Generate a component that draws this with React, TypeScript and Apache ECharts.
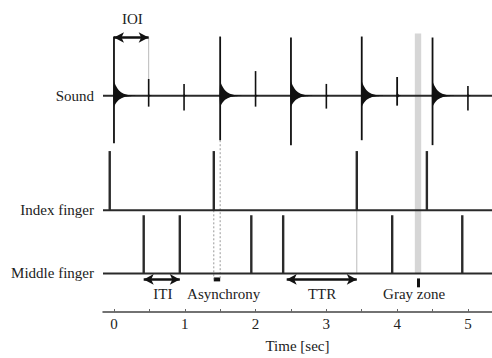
import React, { useEffect, useRef } from "react";
import * as echarts from "echarts";

// ---- data ----
const xTickLabels = [0, 1, 2, 3, 4, 5];
const xTickMarks = [0, 0.5, 1, 1.5, 2, 2.5, 3, 3.5, 4, 4.5, 5];
const rowLabels = ["Sound", "Index finger", "Middle finger"];
const rowBase = [219, 103, 39];

const soundTimes = [0, 0.49, 0.99, 1.5, 2.0, 2.5, 3.0, 3.5, 4.0, 4.5, 5.0];
const soundUp = [60, 17, 12, 60, 25, 59, 12, 60, 19, 59, 10];
const soundDown = [48, 11, 15, 45, 11, 50, 13, 45, 10, 50, 15];
const soundEnv = [15, 2, 2, 15, 2, 15, 2, 15, 5, 15, 2];

const indexTaps = [-0.06, 1.41, 3.43, 4.42];
const middleTaps = [0.42, 0.93, 1.94, 2.39, 3.93, 4.92];
const indexTapHeight = 60;
const middleTapHeight = 59;

const grayZone = [4.25, 4.34];
const grayZoneTop = 282;

const annotationLabels = ["IOI", "ITI", "Asynchrony", "TTR", "Gray zone"];
const annotationX = [0.26, 0.69, 1.55, 2.94, 4.24];
const annotationY = [297, 18, 18, 18, 18];

const ioiSpan = [0, 0.49];
const ioiLevel = 278;
const itiSpan = [0.42, 0.93];
const ttrSpan = [2.44, 3.43];
const asyncSpan = [1.41, 1.5];
const annotationLevel = 33;

const X_MIN = -0.155;
const X_MAX = 5.34;
const FONT = "Liberation Serif";

export default function App() {
  const ref = useRef<HTMLDivElement>(null);
  useEffect(() => {
    if (!ref.current) return;
    const chart = echarts.init(ref.current, null, { renderer: "svg" });
    const [SOUND_BASE, INDEX_BASE, MIDDLE_BASE] = rowBase;

    const soundData = soundTimes.map((t, i) => [t, soundUp[i], soundDown[i], soundEnv[i]]);
    const tapData = [
      ...indexTaps.map((t) => [t, INDEX_BASE, indexTapHeight]),
      ...middleTaps.map((t) => [t, MIDDLE_BASE, middleTapHeight]),
    ];
    const guideData = [
      [ioiSpan[1], SOUND_BASE, ioiLevel, 0],
      [asyncSpan[0], INDEX_BASE, annotationLevel, 1],
      [asyncSpan[1], SOUND_BASE - soundDown[3], annotationLevel, 1],
      [ttrSpan[1], INDEX_BASE, MIDDLE_BASE, 0],
    ];
    const textData = annotationLabels.map((l, i) => [annotationX[i], annotationY[i], i]);

    const arrowLine = (a: number, b: number, y: number) => [
      { coord: [a, y] },
      { coord: [b, y] },
    ];

    chart.setOption({
      animation: false,
      textStyle: { fontFamily: FONT },
      grid: { left: 103, right: 0, top: 0, bottom: 42 },
      xAxis: {
        type: "value",
        min: X_MIN,
        max: X_MAX,
        splitLine: { show: false },
        axisLine: { lineStyle: { color: "#444", width: 1.5 } },
        axisTick: {
          customValues: xTickMarks,
          inside: true,
          length: 3,
          lineStyle: { color: "#666", width: 1 },
        },
        axisLabel: {
          customValues: xTickLabels,
          margin: 4,
          fontSize: 15,
          fontFamily: FONT,
          color: "#222",
        },
        name: "Time [sec]",
        nameLocation: "middle",
        nameGap: 26,
        nameTextStyle: { fontSize: 15, fontFamily: FONT, color: "#222" },
      },
      yAxis: {
        type: "value",
        min: 0,
        max: 316,
        splitLine: { show: false },
        axisLine: { show: false },
        axisTick: { show: false },
        axisLabel: {
          customValues: rowBase,
          formatter: (v: number) => rowLabels[rowBase.indexOf(v)] ?? "",
          margin: 9,
          fontSize: 15,
          fontFamily: FONT,
          color: "#222",
        },
      },
      series: [
        // dotted guides
        {
          type: "custom",
          z: 1,
          silent: true,
          data: guideData,
          renderItem: (params: any, api: any) => {
            const t = api.value(0);
            const p1 = api.coord([t, api.value(1)]);
            const p2 = api.coord([t, api.value(2)]);
            const dotted = api.value(3) === 1;
            return {
              type: "line",
              shape: { x1: p1[0], y1: p1[1], x2: p2[0], y2: p2[1] },
              style: {
                stroke: dotted ? "#999" : "#bbb",
                lineWidth: 1,
                lineDash: dotted ? [2, 2] : null,
              },
            };
          },
        },
        // baselines
        ...rowBase.map((b) => ({
          type: "line",
          z: 2,
          silent: true,
          symbol: "none",
          data: [
            [X_MIN, b],
            [X_MAX, b],
          ],
          lineStyle: { color: "#2a2a2a", width: 2 },
        })),
        // sound waveform
        {
          type: "custom",
          z: 3,
          silent: true,
          data: soundData,
          renderItem: (params: any, api: any) => {
            const t = api.value(0);
            const up = api.value(1);
            const down = api.value(2);
            const env = api.value(3);
            const top = api.coord([t, SOUND_BASE + up]);
            const bot = api.coord([t, SOUND_BASE - down]);
            const tau = env > 8 ? 0.07 : 0.015;
            const len = env > 8 ? 0.3 : 0.06;
            const upper: number[][] = [api.coord([t - 0.01, SOUND_BASE])];
            const lower: number[][] = [];
            const N = 24;
            for (let k = 0; k <= N; k++) {
              const s = (k / N) * len;
              const f = Math.exp(-s / tau);
              upper.push(api.coord([t + s, SOUND_BASE + env * f]));
              lower.push(api.coord([t + s, SOUND_BASE - env * 0.75 * f]));
            }
            const points = upper.concat(lower.reverse());
            return {
              type: "group",
              children: [
                { type: "polygon", shape: { points }, style: { fill: "#111" } },
                {
                  type: "line",
                  shape: { x1: top[0], y1: top[1], x2: bot[0], y2: bot[1] },
                  style: { stroke: "#111", lineWidth: env > 3 ? 1.8 : 1.6 },
                },
              ],
            };
          },
        },
        // finger taps
        {
          type: "custom",
          z: 3,
          silent: true,
          data: tapData,
          renderItem: (params: any, api: any) => {
            const t = api.value(0);
            const b = api.value(1);
            const h = api.value(2);
            const p1 = api.coord([t, b]);
            const p2 = api.coord([t, b + h]);
            return {
              type: "line",
              shape: { x1: p1[0], y1: p1[1], x2: p2[0], y2: p2[1] },
              style: { stroke: "#2a2a2a", lineWidth: 2.4 },
            };
          },
        },
        // gray zone band
        {
          type: "line",
          z: 4,
          silent: true,
          data: [],
          markArea: {
            silent: true,
            itemStyle: { color: "#d6d6d6", opacity: 1 },
            data: [
              [
                { coord: [grayZone[0], MIDDLE_BASE] },
                { coord: [grayZone[1], grayZoneTop] },
              ],
            ],
          },
        },
        // arrows
        {
          type: "line",
          z: 5,
          silent: true,
          data: [],
          markLine: {
            silent: true,
            symbol: ["arrow", "arrow"],
            symbolSize: [8, 10],
            label: { show: false },
            lineStyle: { type: "solid", color: "#111", width: 2.5 },
            data: [
              arrowLine(ioiSpan[0], ioiSpan[1], ioiLevel),
              arrowLine(itiSpan[0], itiSpan[1], annotationLevel),
              arrowLine(ttrSpan[0], ttrSpan[1], annotationLevel),
            ],
          },
          markArea: {
            silent: true,
            itemStyle: { color: "#111", opacity: 1 },
            data: [
              [
                { coord: [asyncSpan[0], annotationLevel - 2] },
                { coord: [asyncSpan[1], annotationLevel + 2] },
              ],
            ],
          },
        },
        // gray zone marker
        {
          type: "line",
          z: 5,
          silent: true,
          data: [],
          markLine: {
            silent: true,
            symbol: ["none", "none"],
            label: { show: false },
            lineStyle: { type: "solid", color: "#111", width: 3 },
            data: [
              [
                { coord: [(grayZone[0] + grayZone[1]) / 2, annotationLevel + 1] },
                { coord: [(grayZone[0] + grayZone[1]) / 2, annotationLevel - 8] },
              ],
            ],
          },
        },
        // annotation texts
        {
          type: "custom",
          z: 6,
          silent: true,
          data: textData,
          renderItem: (params: any, api: any) => {
            const p = api.coord([api.value(0), api.value(1)]);
            return {
              type: "text",
              x: p[0],
              y: p[1],
              style: {
                text: annotationLabels[api.value(2)],
                fontSize: 15,
                fontFamily: FONT,
                fill: "#222",
                align: "center",
                verticalAlign: "middle",
              },
            };
          },
        },
      ],
    });
    return () => chart.dispose();
  }, []);
  return (
    <div
      ref={ref}
      style={{ position: "fixed", left: 0, top: 0, width: 492, height: 358, background: "#fff" }}
    />
  );
}
